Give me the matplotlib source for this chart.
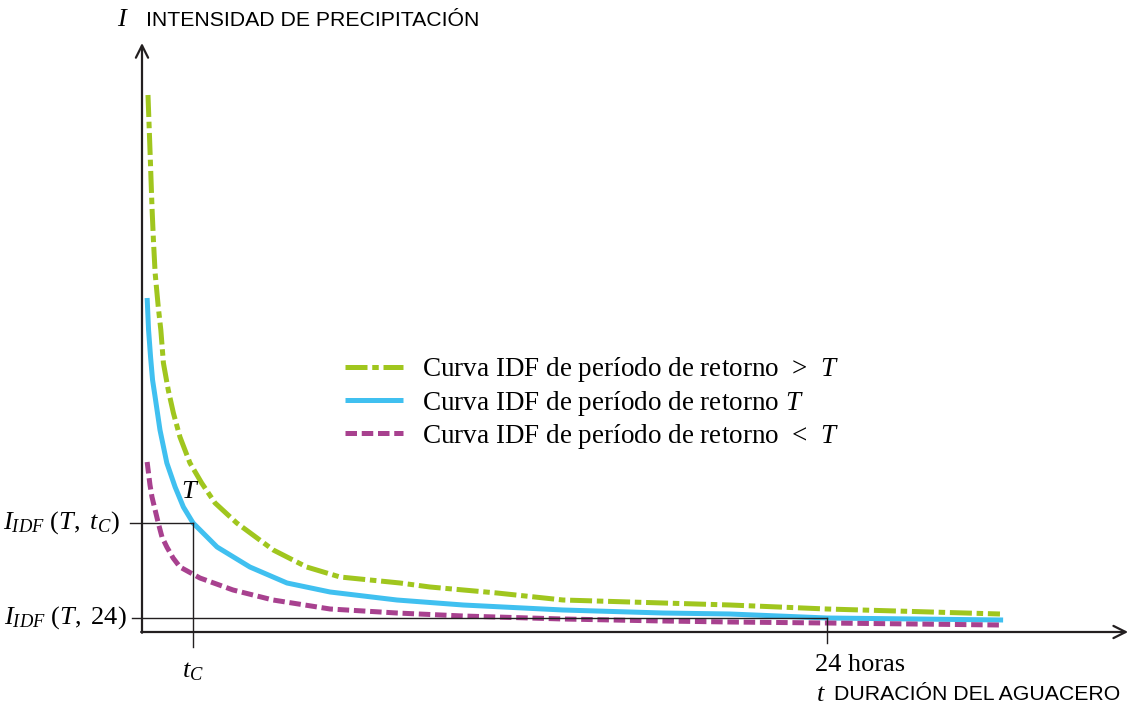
import matplotlib
matplotlib.use('Agg')
import matplotlib.pyplot as plt

# Curvas IDF (esquema): duración t en horas, intensidad I en unidades arbitrarias
t_mayor = [0.21, 0.28, 0.35, 0.40, 0.46, 0.57, 0.66, 0.75, 0.92, 1.10, 1.33, 1.68,
           2.09, 2.56, 3.32, 4.60, 5.77, 6.94, 9.04, 10.09, 12.44, 14.75, 17.10,
           20.60, 24.0, 30.06]
i_mayor = [53.7, 48.2, 42.5, 39.2, 35.9, 32.5, 30.2, 26.9, 24.2, 21.9, 19.5, 16.9,
           14.9, 12.9, 10.9, 8.2, 6.5, 5.5, 4.9, 4.5, 3.9, 3.2, 3.0,
           2.7, 2.3, 1.8]

t_T = [0.18, 0.23, 0.30, 0.37, 0.46, 0.63, 0.87, 1.16, 1.45, 1.79, 2.63, 3.78,
       5.08, 6.59, 8.93, 11.25, 14.75, 18.25, 20.60, 24.0, 30.17]
i_T = [33.4, 30.2, 27.5, 25.2, 23.5, 20.2, 16.9, 14.5, 12.5, 10.9, 8.5, 6.5,
       4.9, 4.0, 3.2, 2.7, 2.2, 1.9, 1.8, 1.4, 1.2]

t_menor = [0.18, 0.28, 0.35, 0.46, 0.57, 0.70, 0.87, 1.09, 1.33, 2.03, 3.19, 4.59,
           6.59, 8.93, 11.25, 14.75, 18.25, 20.60, 24.0, 30.06]
i_menor = [17.0, 14.7, 13.5, 12.2, 10.9, 9.5, 8.5, 7.4, 6.5, 5.4, 4.2, 3.2,
           2.3, 1.9, 1.6, 1.3, 1.1, 1.0, 0.9, 0.7]

etiquetas = [r'Curva IDF de período de retorno  >  $T$',
             r'Curva IDF de período de retorno $T$',
             r'Curva IDF de período de retorno  <  $T$']

t_c = 1.79        # duración crítica
i_tc = 10.9       # I_IDF(T, tc)
t_24 = 24.0       # 24 horas
i_24 = 1.4        # I_IDF(T, 24)

plt.rcParams['font.family'] = ['Liberation Serif', 'DejaVu Serif']
plt.rcParams['mathtext.fontset'] = 'custom'
plt.rcParams['mathtext.rm'] = 'Liberation Serif'
plt.rcParams['mathtext.it'] = 'Liberation Serif:italic'

verde = '#A0C61E'
azul = '#40C0F0'
morado = '#A8418F'
negro = '#231F20'

fig = plt.figure(figsize=(11.29, 7.08), dpi=100)
ax = fig.add_axes([0, 0, 1, 1])
ax.set_xlim(-142 / 28.542, 987 / 28.542)
ax.set_ylim(-7.6, 63.2)
ax.axis('off')

ax.plot(t_mayor, i_mayor, color=verde, lw=3.6, dashes=(4.4, 0.95, 1.3, 0.95),
        dash_capstyle='butt', dash_joinstyle='round', label=etiquetas[0])
ax.plot(t_T, i_T, color=azul, lw=3.6, solid_capstyle='butt',
        solid_joinstyle='round', label=etiquetas[1])
ax.plot(t_menor, i_menor, color=morado, lw=3.6, dashes=(2.3, 0.95),
        dash_capstyle='butt', dash_joinstyle='round', label=etiquetas[2])

# ejes con flechas
ax.annotate('', xy=(34.55, 0), xytext=(-0.03, 0),
            arrowprops=dict(arrowstyle='->', lw=1.6, color=negro, mutation_scale=22,
                            shrinkA=0, shrinkB=0))
ax.annotate('', xy=(0, 58.9), xytext=(0, -0.08),
            arrowprops=dict(arrowstyle='->', lw=1.6, color=negro, mutation_scale=22,
                            shrinkA=0, shrinkB=0))

# líneas de referencia
ax.plot([-0.42, t_c], [i_tc, i_tc], color=negro, lw=1.0)
ax.plot([t_c, t_c], [-1.5, i_tc], color=negro, lw=1.0)
ax.plot([-0.35, t_24], [i_24, i_24], color=negro, lw=1.0)
ax.plot([t_24, t_24], [-1.1, i_24], color=negro, lw=1.0)

# textos
ax.text(-0.77, i_tc, r'$I_{IDF}\ (T,\ t_C)$', fontsize=19, ha='right', va='center')
ax.text(-0.52, i_24, r'$I_{IDF}\ (T,\ 24)$', fontsize=19, ha='right', va='center')
ax.text(1.68, 14.0, r'$T$', fontsize=19, ha='center', va='center')
ax.text(t_c, -4.0, r'$t_C$', fontsize=19, ha='center', va='center')
ax.text(25.16, -3.3, '24 horas', fontsize=19, ha='center', va='center')

ax.text(-0.67, 61.2, r'$I$', fontsize=19, ha='center', va='center')
ax.text(0.14, 61.2, 'INTENSIDAD DE PRECIPITACIÓN', fontsize=15.3, ha='left', va='center',
        family='Liberation Sans')
ax.text(23.8, -6.3, r'$t$', fontsize=19, ha='center', va='center')
ax.text(24.25, -6.3, 'DURACIÓN DEL AGUACERO', fontsize=15.3, ha='left', va='center',
        family='Liberation Sans')

ax.legend(loc='center left', bbox_to_anchor=(345 / 1129, 1 - 403 / 708),
          bbox_transform=fig.transFigure, frameon=False, fontsize=19.5,
          handlelength=2.15, handletextpad=0.7, labelspacing=0.15,
          borderpad=0, borderaxespad=0)

plt.savefig('out.png', dpi=100)
plt.close()
